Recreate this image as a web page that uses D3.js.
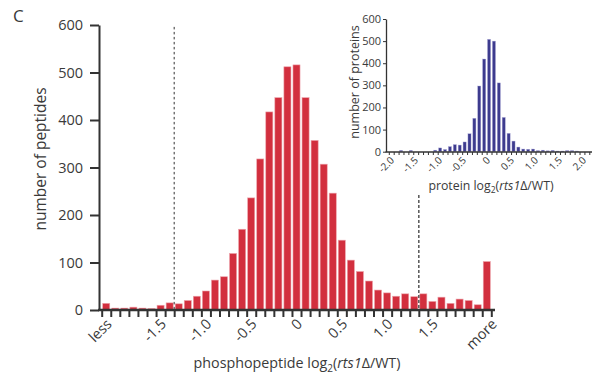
<!DOCTYPE html>
<html>
<head>
<meta charset="utf-8">
<script src="https://cdn.jsdelivr.net/npm/d3@7"></script>
<style>
body{margin:0;background:#fff;}
text{font-family:"Open Sans","Noto Sans",sans-serif;fill:#3a3a3a;}
</style>
</head>
<body>
<svg id="chart"></svg>
<script>
// phosphopeptide histogram, bins of 0.1 from -2.2, first = less, last = more
let peptideCounts = [14,4,4,6,4,3,10,15,13,20,29,40,63,70,119,170,236,318,417,447,
    512,516,447,357,307,246,147,105,81,61,42,36,29,34,28,34,18,27,14,23,20,11,102];
let peptideTickVals = [-2.1,-1.5,-1.0,-0.5,0,0.5,1.0,1.5,2.15];
let peptideTickLabels = ['less','-1.5','-1.0','-0.5','0','0.5','1.0','1.5','more'];
let cutoffs = [-1.4, 1.3];
let cutoffTops = [596, 242];

// protein histogram, bins of 0.1 from -2.0 to 2.0
let proteinCounts = [0,6,0,6,0,0,0,0,7,17,10,23,32,30,44,81,151,297,419,508,
    500,311,155,83,48,21,12,11,12,5,7,4,6,3,3,5,5,3,0,0];
let proteinTickVals = [-2.0,-1.5,-1.0,-0.5,0,0.5,1.0,1.5,2.0];
let proteinTickLabels = ['-2.0','-1.5','-1.0','-0.5','0','0.5','1.0','1.5','2.0'];
let countTicks = [0,100,200,300,400,500,600];

let width = 592, height = 379;
let svg = d3.select('#chart').attr('width', width).attr('height', height);

svg.append('text').attr('x', 13).attr('y', 22).style('font-size', '17px').text('C');

// main chart
let x = d3.scaleLinear().domain([-2.2, 2.1]).range([101.7, 491.3]);
let y = d3.scaleLinear().domain([0, 600]).range([310, 25]);
let bw = 0.1;

svg.append('g').selectAll('rect')
    .data(peptideCounts)
    .enter()
    .append('rect')
    .attr('x', (d,i)=>x(-2.2 + i*bw) + 1)
    .attr('width', x(bw) - x(0) - 2)
    .attr('y', d=>y(d))
    .attr('height', d=>y(0) - y(d))
    .attr('fill', '#d22f3e')
    .attr('stroke', '#eda2aa')
    .attr('stroke-width', 0.6);

svg.append('g').selectAll('line')
    .data(cutoffs)
    .enter()
    .append('line')
    .attr('x1', d=>x(d)).attr('x2', d=>x(d))
    .attr('y1', (d,i)=>y(cutoffTops[i])).attr('y2', y(0))
    .attr('stroke', (d,i)=> i ? '#555' : '#333')
    .attr('stroke-width', (d,i)=> i ? 1.5 : 1)
    .attr('stroke-dasharray', (d,i)=> i ? '3,2' : '2.5,2.5');

let yAxis = svg.append('g')
    .attr('transform', 'translate(99,0)')
    .call(d3.axisLeft(y).tickValues(countTicks).tickSize(9).tickPadding(7).tickSizeOuter(0));
yAxis.select('.domain').attr('stroke', '#333').attr('stroke-width', 2);
yAxis.selectAll('.tick line').attr('stroke', '#333').attr('stroke-width', 2);
yAxis.selectAll('text').style('font-size', '14.5px').attr('fill', '#3a3a3a');

let edges = d3.range(0, 44).map(k=>-2.2 + k*bw);
let xAxis = svg.append('g')
    .attr('transform', 'translate(0,310)')
    .call(d3.axisBottom(x).tickValues(edges).tickSize(7).tickFormat('').tickSizeOuter(0));
xAxis.select('.domain').remove();
xAxis.selectAll('.tick line').attr('stroke', '#333').attr('stroke-width', 2);
svg.append('line')
    .attr('x1', 98).attr('x2', 495).attr('y1', 310).attr('y2', 310)
    .attr('stroke', '#333').attr('stroke-width', 2.5);

svg.append('g').selectAll('text')
    .data(peptideTickVals)
    .enter()
    .append('text')
    .attr('transform', d=>`translate(${x(d)+2},325) rotate(-45)`)
    .attr('text-anchor', 'end')
    .style('font-size', '14.5px')
    .text((d,i)=>peptideTickLabels[i]);

let xt = svg.append('text')
    .attr('x', 297).attr('y', 368)
    .attr('text-anchor', 'middle')
    .style('font-size', '14.3px');
xt.append('tspan').text('phosphopeptide log');
xt.append('tspan').attr('dy', 4).style('font-size', '10px').text('2');
xt.append('tspan').attr('dy', -4).text('(');
xt.append('tspan').style('font-style', 'italic').text('rts1');
xt.append('tspan').text('Δ/WT)');

svg.append('text')
    .attr('transform', 'translate(46,159) rotate(-90)')
    .attr('text-anchor', 'middle')
    .style('font-size', '15.5px')
    .text('number of peptides');

// inset
let xi = d3.scaleLinear().domain([-2.0, 2.0]).range([393.7, 589.3]);
let yi = d3.scaleLinear().domain([0, 600]).range([151.7, 19]);

svg.append('g').selectAll('rect')
    .data(proteinCounts)
    .enter()
    .append('rect')
    .attr('x', (d,i)=>xi(-2.0 + i*bw) + 0.9)
    .attr('width', xi(bw) - xi(0) - 1.8)
    .attr('y', d=>yi(d))
    .attr('height', d=>yi(0) - yi(d))
    .attr('fill', '#3d3b8e')
    .attr('stroke', '#aaa8d8')
    .attr('stroke-width', 0.4);

let yiAxis = svg.append('g')
    .attr('transform', 'translate(386,0)')
    .call(d3.axisLeft(yi).tickValues(countTicks).tickSize(3).tickPadding(2).tickSizeOuter(0));
yiAxis.select('.domain').attr('stroke', '#333').attr('stroke-width', 1.3);
yiAxis.selectAll('.tick line').attr('stroke', '#333');
yiAxis.selectAll('text').style('font-size', '11px').attr('fill', '#3a3a3a');

let iedges = d3.range(0, 42).map(k=>-2.1 + k*bw);
let xiAxis = svg.append('g')
    .attr('transform', 'translate(0,152)')
    .call(d3.axisBottom(xi).tickValues(iedges).tickSize(3).tickFormat('').tickSizeOuter(0));
xiAxis.select('.domain').remove();
xiAxis.selectAll('.tick line').attr('stroke', '#333').attr('stroke-width', 1);
svg.append('line')
    .attr('x1', 385.5).attr('x2', 592).attr('y1', 152).attr('y2', 152)
    .attr('stroke', '#333').attr('stroke-width', 1.3);

svg.append('g').selectAll('text')
    .data(proteinTickVals)
    .enter()
    .append('text')
    .attr('transform', d=>`translate(${xi(d) + 1.2 - 0.9*(d+2)},161) rotate(-45)`)
    .attr('text-anchor', 'end')
    .style('font-size', '10px')
    .text((d,i)=>proteinTickLabels[i]);

let it = svg.append('text')
    .attr('x', 491).attr('y', 190)
    .attr('text-anchor', 'middle')
    .style('font-size', '12.3px');
it.append('tspan').text('protein log');
it.append('tspan').attr('dy', 3).style('font-size', '8.5px').text('2');
it.append('tspan').attr('dy', -3).text('(');
it.append('tspan').style('font-style', 'italic').text('rts1');
it.append('tspan').text('Δ/WT)');

svg.append('text')
    .attr('transform', 'translate(359,82) rotate(-90)')
    .attr('text-anchor', 'middle')
    .style('font-size', '12.5px')
    .text('number of proteins');
</script>
</body>
</html>
